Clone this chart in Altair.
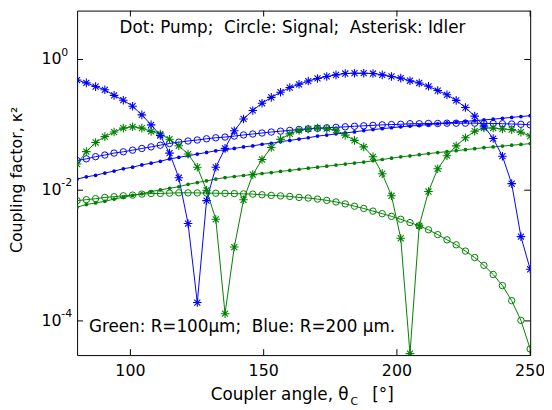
import altair as alt
import pandas as pd

FONT = "DejaVu Sans"

theta = [80.00, 83.47, 86.94, 90.41, 93.88, 97.35, 100.82, 104.29, 107.76, 111.22,
         114.69, 118.16, 121.63, 125.10, 128.57, 132.04, 135.51, 138.98, 142.45, 145.92,
         149.39, 152.86, 156.33, 159.80, 163.27, 166.73, 170.20, 173.67, 177.14, 180.61,
         184.08, 187.55, 191.02, 194.49, 197.96, 201.43, 204.90, 208.37, 211.84, 215.31,
         218.78, 222.24, 225.71, 229.18, 232.65, 236.12, 239.59, 243.06, 246.53, 250.00]

# Blue: R = 200 um
idler_200 = [0.485, 0.438, 0.385, 0.344, 0.282, 0.238, 0.193, 0.142, 0.100, 0.0687,
             0.0369, 0.0155, 0.00309, 0.000191, 0.00692, 0.0224, 0.0437, 0.0813, 0.123, 0.166,
             0.214, 0.263, 0.316, 0.372, 0.417, 0.468, 0.513, 0.550, 0.582, 0.610,
             0.617, 0.617, 0.610, 0.582, 0.550, 0.519, 0.473, 0.437, 0.389, 0.335,
             0.288, 0.237, 0.184, 0.136, 0.0955, 0.0617, 0.0331, 0.0126, 0.00195, 0.000617]
signal_200 = [0.0284, 0.0302, 0.0326, 0.0345, 0.0370, 0.0387, 0.0410, 0.0435, 0.0460, 0.0488,
              0.0519, 0.0543, 0.0566, 0.0586, 0.0612, 0.0634, 0.0650, 0.0673, 0.0700, 0.0724,
              0.0750, 0.0776, 0.0800, 0.0822, 0.0851, 0.0867, 0.0887, 0.0902, 0.0916, 0.0933,
              0.0951, 0.0966, 0.0982, 0.100, 0.101, 0.102, 0.104, 0.104, 0.105, 0.105,
              0.106, 0.106, 0.106, 0.106, 0.105, 0.105, 0.104, 0.103, 0.102, 0.100]
pump_200 = [0.0148, 0.0160, 0.0169, 0.0183, 0.0196, 0.0213, 0.0225, 0.0244, 0.0259, 0.0277,
            0.0301, 0.0318, 0.0337, 0.0357, 0.0378, 0.0401, 0.0415, 0.0435, 0.0460, 0.0476,
            0.0505, 0.0521, 0.0553, 0.0578, 0.0605, 0.0634, 0.0673, 0.0697, 0.0728, 0.0753,
            0.0780, 0.0817, 0.0845, 0.0875, 0.0902, 0.0933, 0.0959, 0.0982, 0.101, 0.104,
            0.107, 0.110, 0.113, 0.116, 0.119, 0.122, 0.126, 0.130, 0.134, 0.138]

# Green: R = 100 um
idler_100 = [0.0251, 0.0389, 0.0537, 0.0661, 0.0776, 0.0891, 0.0933, 0.0891, 0.0794, 0.0724,
             0.0603, 0.0479, 0.0357, 0.0225, 0.0100, 0.00359, 0.000129, 0.00135, 0.00714, 0.0173,
             0.0295, 0.0450, 0.0600, 0.0728, 0.0822, 0.0865, 0.0895, 0.0875, 0.0826, 0.0697,
             0.0578, 0.0460, 0.0324, 0.0179, 0.00822, 0.00184, 0.0000316, 0.00285, 0.00955, 0.0213,
             0.0337, 0.0476, 0.0634, 0.0800, 0.0895, 0.0895, 0.0865, 0.0845, 0.0771, 0.0673]
signal_100 = [0.00692, 0.00716, 0.00741, 0.00776, 0.00794, 0.00822, 0.00841, 0.00871, 0.00891, 0.00891,
              0.00902, 0.00912, 0.00912, 0.00908, 0.00904, 0.00899, 0.00895, 0.00887, 0.00879, 0.00871,
              0.00851, 0.00832, 0.00818, 0.00802, 0.00776, 0.00759, 0.00731, 0.00698, 0.00661, 0.00617,
              0.00569, 0.00525, 0.00479, 0.00437, 0.00398, 0.00359, 0.00320, 0.00285, 0.00248, 0.00209,
              0.00174, 0.00146, 0.00117, 0.000933, 0.000708, 0.000513, 0.000347, 0.000204, 0.000102, 0.0000372]
pump_100 = [0.00550, 0.00603, 0.00637, 0.00676, 0.00731, 0.00783, 0.00832, 0.00881, 0.00955, 0.0101,
            0.0107, 0.0113, 0.0123, 0.0131, 0.0139, 0.0148, 0.0156, 0.0162, 0.0168, 0.0174,
            0.0180, 0.0186, 0.0194, 0.0201, 0.0209, 0.0217, 0.0225, 0.0233, 0.0242, 0.0251,
            0.0260, 0.0269, 0.0282, 0.0295, 0.0309, 0.0324, 0.0335, 0.0349, 0.0363, 0.0376,
            0.0389, 0.0403, 0.0417, 0.0432, 0.0447, 0.0460, 0.0473, 0.0488, 0.0501, 0.0516]

x_ticks = [100, 150, 200, 250]
y_ticks = [1e-4, 1e-2, 1.0]
y_tick_exp = ["-4", "-2", "0"]

NB = "\u00a0"
top_note = "Dot: Pump;" + NB + " Circle: Signal;" + NB + " Asterisk: Idler"
bottom_note = "Green: R=100\u03bcm;" + NB + " Blue: R=200 \u03bcm."

series = [
    ("idler_100", "R=100", "idler", idler_100),
    ("signal_100", "R=100", "signal", signal_100),
    ("pump_100", "R=100", "pump", pump_100),
    ("idler_200", "R=200", "idler", idler_200),
    ("signal_200", "R=200", "signal", signal_200),
    ("pump_200", "R=200", "pump", pump_200),
]
rows = []
for name, radius, kind, vals in series:
    for t, v in zip(theta, vals):
        rows.append({"theta": t, "k2": v, "series": name, "radius": radius, "kind": kind})
df = pd.DataFrame(rows)

W, H = 459, 349
xs = alt.Scale(domain=[80, 250], nice=False, zero=False)
ys = alt.Scale(type="log", domain=[3.0e-5, 5.6], nice=False)
cs = alt.Scale(domain=["R=100", "R=200"], range=["#008000", "#0000ff"])

ASTERISK = "M-1,0L1,0M0,-1L0,1M-0.7,-0.7L0.7,0.7M-0.7,0.7L0.7,-0.7"

base = alt.Chart(df)
X_plain = alt.X("theta:Q", scale=xs, axis=None)
Y_plain = alt.Y("k2:Q", scale=ys, axis=None)
C_enc = alt.Color("radius:N", scale=cs, legend=None)

lines = base.mark_line(strokeWidth=1, clip=True).encode(
    x=X_plain, y=Y_plain, color=C_enc, detail="series:N", order="theta:Q")

dots = base.transform_filter(alt.datum.kind == "pump").mark_point(
    shape="circle", filled=True, size=14, opacity=1, clip=True
).encode(x=X_plain, y=Y_plain, color=C_enc)

circles = base.transform_filter(alt.datum.kind == "signal").mark_point(
    shape="circle", filled=False, size=42, strokeWidth=1, opacity=1, clip=True
).encode(x=X_plain, y=Y_plain, color=C_enc)

stars = base.transform_filter(alt.datum.kind == "idler").mark_point(
    shape=ASTERISK, filled=False, size=76, strokeWidth=1.1, opacity=1, clip=True
).encode(x=X_plain, y=Y_plain, color=C_enc)

# inner ticks (Matlab style)
xt = pd.DataFrame({"t": x_ticks})
yt = pd.DataFrame({"t": y_ticks, "e": y_tick_exp})
TL = 6
xt_bottom = alt.Chart(xt).mark_rule(color="black", strokeWidth=1).encode(
    x=alt.X("t:Q", scale=xs, axis=None), y=alt.value(H), y2=alt.value(H - TL))
xt_top = alt.Chart(xt).mark_rule(color="black", strokeWidth=1).encode(
    x=alt.X("t:Q", scale=xs, axis=None), y=alt.value(0), y2=alt.value(TL))
yt_left = alt.Chart(yt).mark_rule(color="black", strokeWidth=1).encode(
    y=alt.Y("t:Q", scale=ys, axis=None), x=alt.value(0), x2=alt.value(TL))
yt_right = alt.Chart(yt).mark_rule(color="black", strokeWidth=1).encode(
    y=alt.Y("t:Q", scale=ys, axis=None), x=alt.value(W), x2=alt.value(W - TL))

# x tick labels
xlab = alt.Chart(xt).mark_text(
    align="center", baseline="alphabetic", font=FONT, fontSize=16, color="black"
).encode(x=alt.X("t:Q", scale=xs, axis=None), y=alt.value(H + 21), text="t:Q")

# y tick labels: 10 with superscript exponent
ylab_base = alt.Chart(yt).mark_text(
    align="left", baseline="middle", font=FONT, fontSize=16, color="black"
).encode(y=alt.Y("t:Q", scale=ys, axis=None), x=alt.value(-36), text=alt.value("10"))
ylab_exp = alt.Chart(yt).mark_text(
    align="left", baseline="middle", font=FONT, fontSize=11, color="black", dy=-7
).encode(y=alt.Y("t:Q", scale=ys, axis=None), x=alt.value(-16), text="e:N")

# axis titles
ytitle = alt.Chart(pd.DataFrame({"s": ["Coupling factor, \u03ba\u00b2"]})).mark_text(
    angle=270, align="center", baseline="middle", font=FONT, fontSize=16, color="black"
).encode(x=alt.value(-61), y=alt.value(H / 2 - 3), text="s:N")

TY = H + 46
xtitle_main = alt.Chart(pd.DataFrame({"s": ["Coupler angle, \u03b8"]})).mark_text(
    align="right", baseline="alphabetic", font=FONT, fontSize=17, color="black"
).encode(x=alt.value(275), y=alt.value(TY), text="s:N")
xtitle_sub = alt.Chart(pd.DataFrame({"s": ["C"]})).mark_text(
    align="left", baseline="alphabetic", font=FONT, fontSize=11, color="black"
).encode(x=alt.value(277), y=alt.value(TY + 5), text="s:N")
xtitle_unit = alt.Chart(pd.DataFrame({"s": ["[\u00b0]"]})).mark_text(
    align="left", baseline="alphabetic", font=FONT, fontSize=17, color="black"
).encode(x=alt.value(299), y=alt.value(TY), text="s:N")

# annotations inside the plot
note_top = alt.Chart(pd.DataFrame({"s": [top_note]})).mark_text(
    align="left", baseline="alphabetic", font=FONT, fontSize=17, color="black"
).encode(x=alt.value(43), y=alt.value(23), text="s:N")
note_bottom = alt.Chart(pd.DataFrame({"s": [bottom_note]})).mark_text(
    align="left", baseline="alphabetic", font=FONT, fontSize=17, color="black"
).encode(x=alt.value(12), y=alt.value(326), text="s:N")

chart = alt.layer(
    lines, dots, circles, stars,
    xt_bottom, xt_top, yt_left, yt_right,
    xlab, ylab_base, ylab_exp, ytitle, xtitle_main, xtitle_sub, xtitle_unit,
    note_top, note_bottom,
).properties(
    width=W, height=H,
    padding={"left": 70, "top": 0, "right": 14, "bottom": 52},
    autosize=alt.AutoSizeParams(type="none"),
    background="white",
).configure_view(stroke="black", strokeWidth=1)

chart.save("out.html", embed_options={"renderer": "svg", "actions": False})
